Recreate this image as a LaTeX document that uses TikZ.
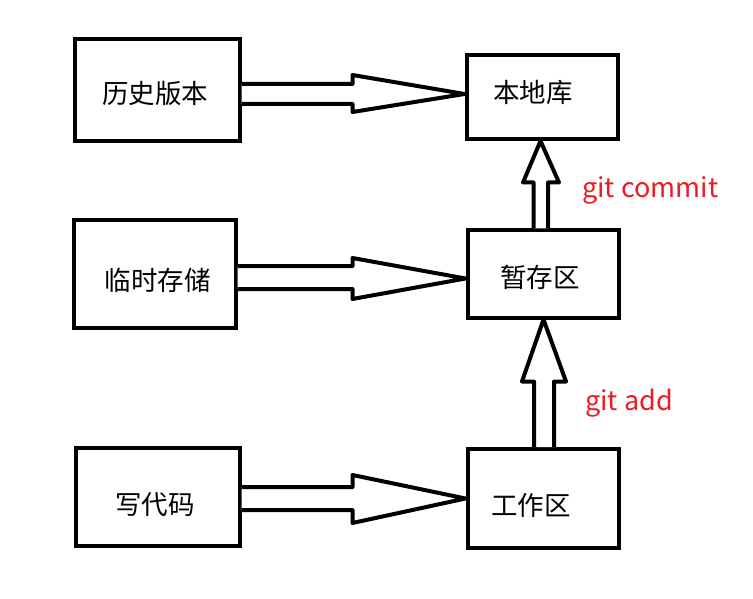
\documentclass[tikz,border=0pt]{standalone}
\usepackage{fontspec}
\newfontfamily\cjk{Noto Sans CJK SC}
\definecolor{gitred}{RGB}{237,28,36}
\begin{document}
\begin{tikzpicture}[x=1pt,y=-1pt,
  box/.style={draw=black,line width=4pt,fill=white,rectangle,inner sep=0pt,miter limit=2},
  lbl/.style={font=\cjk\fontsize{26.5}{30}\selectfont,inner sep=0pt},
  git/.style={font=\cjk\fontsize{27}{30}\selectfont,text=gitred,inner sep=0pt,anchor=base west},
  fat/.style={draw=black,line width=4pt,fill=white,line join=round}]
\useasboundingbox[fill=white] (0,0) rectangle (753,599);
% boxes
\node[box,minimum width=165pt,minimum height=102pt] (L1) at (157,90.5) {};
\node[box,minimum width=161.5pt,minimum height=107.5pt] (L2) at (154.75,274.25) {};
\node[box,minimum width=164pt,minimum height=97.5pt] (L3) at (157.5,496.75) {};
\node[box,minimum width=151.5pt,minimum height=83.5pt] (R1) at (542.25,97.25) {};
\node[box,minimum width=151.5pt,minimum height=87pt] (R2) at (543.25,274) {};
\node[box,minimum width=151.5pt,minimum height=98.5pt] (R3) at (543.25,498.25) {};
% texts
\node[lbl] (t1) at (155,93) {历史版本};
\node[lbl] (t2) at (157.5,280) {临时存储};
\node[lbl] (t3) at (155,505) {写代码};
\node[lbl] (t4) at (533,92.5) {本地库};
\node[lbl] (t5) at (540,277.5) {暂存区};
\node[lbl] (t6) at (531,505) {工作区};
% horizontal fat arrows
\draw[fat] (L1.east |- 0,84) -- (352.5,84) -- (352.5,75) -- (R1.west |- 0,94)
  -- (352.5,112) -- (352.5,104) -- (L1.east |- 0,104);
\draw[fat] (L2.east |- 0,266) -- (352.5,266) -- (352.5,258) -- (R2.west |- 0,278.5)
  -- (352.5,299) -- (352.5,289) -- (L2.east |- 0,289);
\draw[fat] (L3.east |- 0,487) -- (352.5,487) -- (352.5,475) -- (R3.west |- 0,498.5)
  -- (352.5,523) -- (352.5,510) -- (L3.east |- 0,510);
% vertical fat arrows
\draw[fat] (533.5,0 |- R2.north) -- (533.5,182.5) -- (523,182.5) -- (540.5,0 |- R1.south)
  -- (559,182.5) -- (548,182.5) -- (548,0 |- R2.north);
\draw[fat] (534,0 |- R3.north) -- (534,381.5) -- (522,381.5) -- (543.5,0 |- R2.south)
  -- (566,381.5) -- (554,381.5) -- (554,0 |- R3.north);
% labels
\node[git] (g1) at (582,198) {git commit};
\node[git] (g2) at (585,410) {git add};
\end{tikzpicture}
\end{document}
